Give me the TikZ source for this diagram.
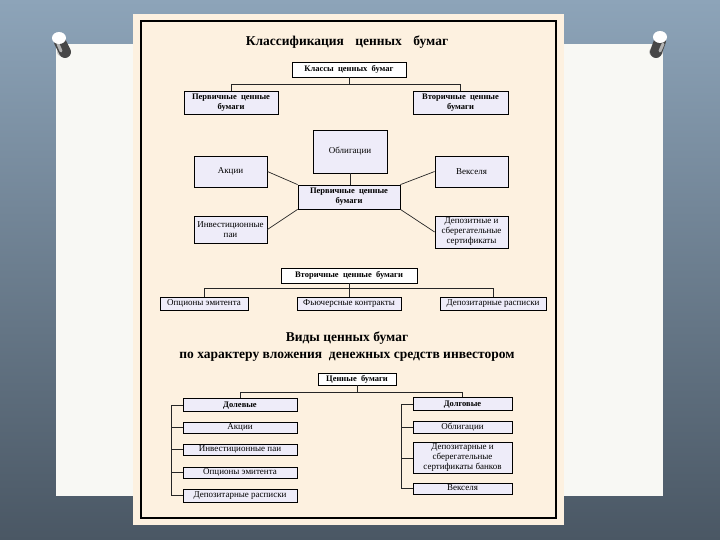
\documentclass[tikz,border=0pt]{standalone}
\usepackage{fontspec}
\setmainfont{Liberation Serif}
\usetikzlibrary{calc}

\definecolor{bgtop}{HTML}{8DA4B9}
\definecolor{bgbot}{HTML}{4A5764}
\definecolor{sheet}{HTML}{F8F8F4}
\definecolor{cream}{HTML}{FDF1E0}
\definecolor{lilac}{HTML}{EEECF9}

\begin{document}
\begin{tikzpicture}[x=1pt, y=-1pt,
    box/.style={draw=black, fill=lilac, line width=0.8pt, inner sep=1pt, align=center, font=\fontsize{9}{10}\selectfont},
    bbox/.style={box, font=\fontsize{8.5}{10}\selectfont\bfseries},
    head/.style={bbox, fill=white},
    slim/.style={text height=6pt, text depth=1.5pt, inner ysep=0pt},
    link/.style={draw=black!85, line width=0.7pt},
    title/.style={font=\fontsize{13.5}{17}\selectfont\bfseries, align=center}]
    \useasboundingbox (0,0) rectangle (720,540);
    % backdrop, board and page
    \shade[top color=bgtop, bottom color=bgbot] (0,0) rectangle (720,540);
    \fill[sheet] (56,44) rectangle (663,496);
    \fill[cream] (133,14) rectangle (564,525);
    \draw[line width=2pt] (141,21) rectangle (556,518);
    % pins
    \fill[black!40, opacity=0.5] (64,52) ellipse (7 and 5);
    \draw[line width=12pt, line cap=round, black!72] (60,42) -- (65,52);
    \draw[line width=3pt, line cap=round, black!30] (58,44) -- (61,51);
    \fill[white] (59,38) ellipse (7 and 6);
    \fill[black!40, opacity=0.5] (656,52) ellipse (7 and 5);
    \draw[line width=12pt, line cap=round, black!72] (660,41) -- (656,52);
    \draw[line width=3pt, line cap=round, black!30] (663,44) -- (660,51);
    \fill[white] (660,37) ellipse (7 and 6);

    % classes
    \node[title] (ttl) at (347,42) {Классификация\hspace{8pt} ценных\hspace{8pt} бумаг};
    \node[head, slim, minimum width=114, minimum height=15] (classes) at (349,69.5) {Классы\ \ ценных\ \ бумаг};
    \node[bbox, minimum width=94, minimum height=23] (prim) at (231,102.5) {Первичные\ \ ценные\\бумаги};
    \node[bbox, minimum width=95, minimum height=23] (secnd) at (460.5,102.5) {Вторичные\ \ ценные\\бумаги};
    \coordinate (j1) at (349,84);
    \draw[link] (classes.south) -- (j1);
    \draw[link] (j1) -| (prim.north);
    \draw[link] (j1) -| (secnd.north);

    % primary papers
    \node[box, minimum width=74, minimum height=43] (oblig) at (350,151.5) {Облигации};
    \node[box, minimum width=73, minimum height=31] (shares) at (230.5,171.5) {Акции};
    \node[box, minimum width=73, minimum height=31] (bills) at (471.5,171.5) {Векселя};
    \node[bbox, minimum width=102, minimum height=24] (core) at (349,197) {Первичные\ \ ценные\\бумаги};
    \node[box, minimum width=73, minimum height=27] (units) at (230.5,229.5) {Инвестиционные\\паи};
    \node[box, minimum width=73, minimum height=32] (certs) at (471.5,232) {Депозитные и\\сберегательные\\сертификаты};
    \draw[link] (shares.east) -- (core.north west);
    \draw[link] (oblig.south) -- (oblig.south |- core.north);
    \draw[link] (bills.west) -- (core.north east);
    \draw[link] (units.east) -- (core.south west);
    \draw[link] (certs.west) -- (core.south east);

    % secondary papers
    \node[head, slim, minimum width=136, minimum height=15] (second) at (349,275.5) {Вторичные\ \ ценные\ \ бумаги};
    \node[box, slim, minimum width=88, minimum height=13] (opt) at (204,303.5) {Опционы эмитента};
    \node[box, slim, minimum width=104, minimum height=13] (fut) at (349,303.5) {Фьючерсные контракты};
    \node[box, slim, minimum width=106, minimum height=13] (dr) at (493,303.5) {Депозитарные расписки};
    \coordinate (j2) at (349,288);
    \draw[link] (second.south) -- (fut.north);
    \draw[link] (j2) -| (opt.north);
    \draw[link] (j2) -| (dr.north);

    % kinds by investment
    \node[title] (ttl2) at (347,346.5) {Виды ценных бумаг\\по характеру вложения\ \ денежных средств инвестором};
    \node[head, slim, minimum width=78, minimum height=12] (papers) at (357,379) {Ценные\ \ бумаги};
    \coordinate (j3) at (357,392);
    \node[bbox, slim, minimum width=114, minimum height=13] (equity) at (240,405) {Долевые};
    \node[box, slim, minimum width=114, minimum height=11] (sh2) at (240,427.5) {Акции};
    \node[box, slim, minimum width=114, minimum height=11] (units2) at (240,449.5) {Инвестиционные паи};
    \node[box, slim, minimum width=114, minimum height=11] (opt2) at (240,472.5) {Опционы эмитента};
    \node[box, slim, minimum width=114, minimum height=13] (dr2) at (240,495.5) {Депозитарные расписки};
    \node[bbox, slim, minimum width=99, minimum height=12.5] (debt) at (462.5,404) {Долговые};
    \node[box, slim, minimum width=99, minimum height=12] (obl2) at (462.5,427) {Облигации};
    \node[box, minimum width=99, minimum height=31] (certs2) at (462.5,458) {Депозитарные и\\сберегательные\\сертификаты банков};
    \node[box, slim, minimum width=99, minimum height=11] (bills2) at (462.5,488.5) {Векселя};
    \draw[link] (papers.south) -- (j3);
    \draw[link] (j3) -| (equity.north);
    \draw[link] (j3) -| (debt.north);
    \coordinate (lrail) at (171,0);
    \coordinate (rrail) at (401,0);
    \draw[link] (equity.west) -- (equity.west -| lrail) -- (dr2.west -| lrail) -- (dr2.west);
    \foreach \n in {sh2,units2,opt2}
        \draw[link] (\n.west) -- (\n.west -| lrail);
    \draw[link] (debt.west) -- (debt.west -| rrail) -- (bills2.west -| rrail) -- (bills2.west);
    \foreach \n in {obl2,certs2}
        \draw[link] (\n.west) -- (\n.west -| rrail);
\end{tikzpicture}
\end{document}
